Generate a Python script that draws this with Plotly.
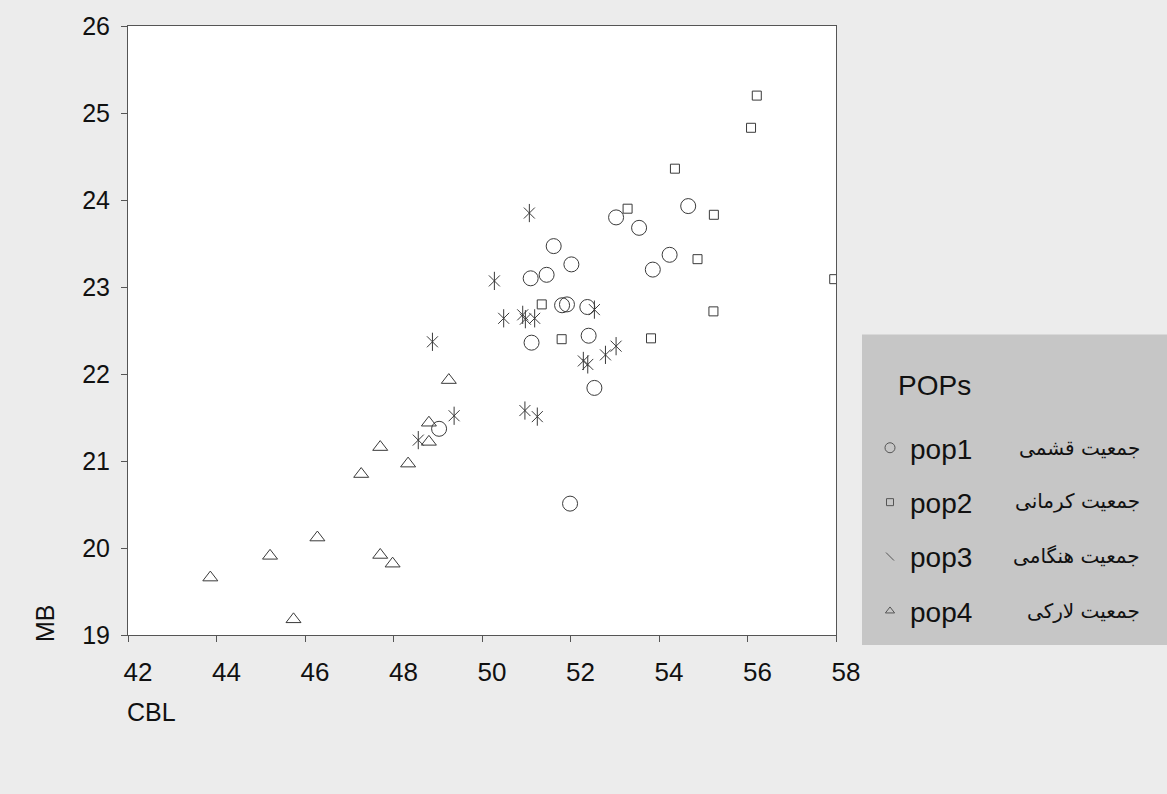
import plotly.graph_objects as go

# ---- data ----
pop1_cbl = [49.03, 53.03, 53.55, 51.62, 52.02, 51.46, 51.10, 54.24, 53.86,
            51.81, 51.92, 52.38, 52.41, 51.12, 52.54, 51.99, 54.66]
pop1_mb = [21.37, 23.80, 23.68, 23.47, 23.26, 23.14, 23.10, 23.37, 23.20,
           22.79, 22.80, 22.77, 22.44, 22.36, 21.84, 20.51, 23.93]

pop2_cbl = [56.21, 56.08, 54.36, 53.29, 55.24, 54.87, 57.96, 55.23, 53.82, 51.35, 51.80]
pop2_mb = [25.20, 24.83, 24.36, 23.90, 23.83, 23.32, 23.09, 22.72, 22.41, 22.80, 22.40]

pop3_cbl = [48.56, 48.88, 49.37, 50.28, 51.07, 50.49, 50.92, 50.98, 51.19,
            52.54, 53.03, 52.79, 52.29, 52.39, 50.97, 51.25]
pop3_mb = [21.24, 22.37, 21.52, 23.07, 23.85, 22.64, 22.68, 22.63, 22.64,
           22.74, 22.32, 22.22, 22.15, 22.11, 21.58, 21.51]

pop4_cbl = [43.86, 45.21, 45.74, 46.28, 47.27, 47.70, 47.70, 47.98, 48.33, 48.80, 48.80, 49.25]
pop4_mb = [19.66, 19.91, 19.18, 20.12, 20.85, 21.16, 19.92, 19.82, 20.97, 21.44, 21.22, 21.93]

pop_names = ["pop1", "pop2", "pop3", "pop4"]
pop_labels_fa = ["جمعیت قشمی", "جمعیت کرمانی", "جمعیت هنگامی", "جمعیت لارکی"]
legend_title = "POPs"
x_ticks = [42, 44, 46, 48, 50, 52, 54, 56, 58]
y_ticks = [19, 20, 21, 22, 23, 24, 25, 26]

INK = "#3a3a3a"
FONT = "Liberation Sans, Arial, DejaVu Sans, sans-serif"

fig = go.Figure()

def data_trace(x, y, symbol, size, group):
    return go.Scatter(x=x, y=y, mode="markers", showlegend=False, legendgroup=group,
                      marker=dict(symbol=symbol, size=size, color=INK,
                                  line=dict(color=INK, width=1)))

fig.add_trace(data_trace(pop1_cbl, pop1_mb, "circle-open", 15, "g1"))
fig.add_trace(data_trace(pop2_cbl, pop2_mb, "square-open", 9, "g2"))
fig.add_trace(data_trace(pop3_cbl, pop3_mb, "x-thin-open", 11, "g3"))
fig.add_trace(data_trace(pop3_cbl, pop3_mb, "line-ns-open", 13, "g3"))
fig.add_trace(data_trace(pop4_cbl, pop4_mb, "triangle-up-open", 13, "g4"))

# legend entries
leg_symbols = ["circle-open", "square-open", "line-nw-open", "triangle-up-open"]
leg_sizes = [10, 7, 8, 8]
for i, name in enumerate(pop_names):
    fig.add_trace(go.Scatter(x=[None], y=[None], mode="markers", name=name,
                             legendgroup=f"g{i+1}", showlegend=True,
                             marker=dict(symbol=leg_symbols[i], size=leg_sizes[i], color="#555",
                                         line=dict(color="#555", width=1))))

L, R, T, B = 128, 836, 23, 635
W, H = 1167, 794
pw, ph = R - L, B - T

def px_x(p):
    return (p - L) / pw

def px_y(p):
    return (B - p) / ph

shapes = [dict(type="rect", xref="paper", yref="paper", layer="below",
               x0=px_x(862), x1=px_x(1167), y0=px_y(645), y1=px_y(333),
               fillcolor="#c6c6c6", line=dict(width=0))]

entry_y = [447, 500, 556, 611]
annotations = []
for lab, yy in zip(pop_labels_fa, entry_y):
    annotations.append(dict(text=lab, xref="paper", yref="paper", x=px_x(1142), y=px_y(yy),
                            xanchor="right", yanchor="middle", showarrow=False,
                            font=dict(family="DejaVu Sans, Noto Sans, sans-serif", size=20, color="#111")))
annotations.append(dict(text=legend_title, xref="paper", yref="paper", x=px_x(896), y=px_y(384),
                        xanchor="left", yanchor="middle", showarrow=False,
                        font=dict(family=FONT, size=28, color="#111")))
annotations.append(dict(text="MB", xref="paper", yref="paper", x=px_x(45), y=px_y(623),
                        xanchor="center", yanchor="middle", textangle=-90, showarrow=False,
                        font=dict(family=FONT, size=25, color="#111")))
annotations.append(dict(text="CBL", xref="paper", yref="paper", x=px_x(151), y=px_y(712),
                        xanchor="center", yanchor="middle", showarrow=False,
                        font=dict(family=FONT, size=25, color="#111")))

fig.update_layout(
    width=W, height=H,
    margin=dict(l=L, r=W - R, t=T, b=H - B),
    paper_bgcolor="#ececec", plot_bgcolor="white",
    font=dict(family=FONT, color="#111"),
    shapes=shapes, annotations=annotations,
    legend=dict(x=px_x(870), y=px_y(422), xanchor="left", yanchor="top",
                bgcolor="rgba(0,0,0,0)", tracegroupgap=15,
                font=dict(size=28, family=FONT, color="#111")),
)
fig.update_xaxes(range=[42, 58], tickvals=x_ticks, ticks="outside", ticklen=6, tickcolor="#555",
                 showline=True, linecolor="#555", linewidth=1, mirror=True, showgrid=False,
                 zeroline=False, tickfont=dict(size=26, family=FONT, color="#111"),
                 ticklabelshift=10, ticklabelstandoff=8)
fig.update_yaxes(range=[19, 26], tickvals=y_ticks, ticks="outside", ticklen=6, tickcolor="#555",
                 showline=True, linecolor="#555", linewidth=1, mirror=True, showgrid=False,
                 zeroline=False, tickfont=dict(size=25, family=FONT, color="#111"),
                 ticklabelstandoff=6)

fig.write_html("out.html", config={"displayModeBar": False},
               post_script="document.body.style.margin='0px';")
